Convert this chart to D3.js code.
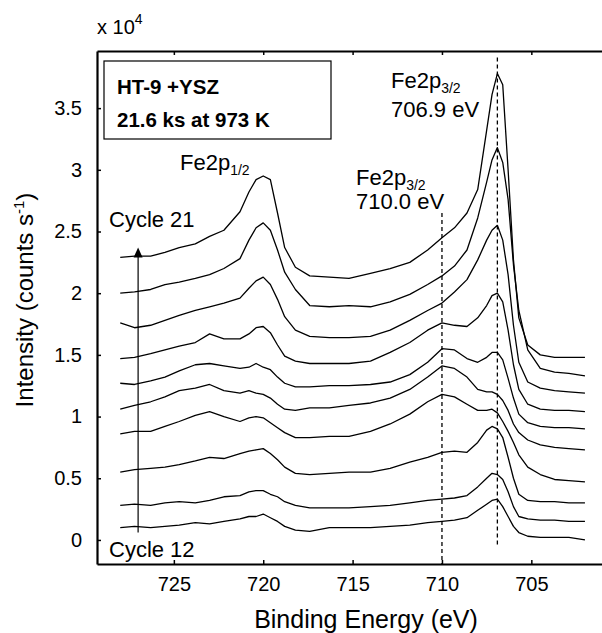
<!DOCTYPE html>
<html>
<head>
    <meta charset="utf-8">
    <script type="text/javascript" src="https://cdn.jsdelivr.net/npm/d3@7"></script>
    <style>
        body { margin: 0; background: #fff; }
        text { font-family: "Liberation Sans", Arial, Helvetica, sans-serif; fill: #000; }
    </style>
</head>

<body>
    <div id="viz"></div>
    <script type="text/javascript">

    // binding energy grid (eV), shared by all spectra
    var energy = [728.0, 727.2, 726.3, 725.5, 724.7, 723.8, 723.0, 722.2, 721.3, 720.8,
                  720.4, 720.0, 719.6, 719.2, 718.8, 718.2, 717.4, 716.3, 715.2, 714.0,
                  712.9, 711.8, 710.8, 710.0, 709.3, 708.6, 708.0, 707.5, 707.2, 706.9,
                  706.6, 706.3, 706.0, 705.7, 705.2, 704.5, 703.7, 702.9, 702.0];

    // intensity, x 10^4 counts/s (offset stack as plotted)
    var cycle21 = [2.29,2.30,2.30,2.33,2.37,2.40,2.46,2.51,2.66,2.82,2.92,2.95,2.92,2.65,2.37,2.21,2.14,2.13,2.12,2.16,2.20,2.25,2.35,2.45,2.53,2.65,2.84,3.32,3.61,3.78,3.69,3.00,2.27,1.80,1.58,1.50,1.48,1.48,1.48];
    var cycle20 = [2.00,2.01,2.03,2.07,2.09,2.12,2.15,2.20,2.28,2.43,2.53,2.57,2.51,2.35,2.17,2.03,1.90,1.89,1.90,1.89,1.93,1.99,2.07,2.14,2.22,2.35,2.61,2.90,3.08,3.18,3.06,2.76,2.23,1.86,1.54,1.39,1.36,1.35,1.33];
    var cycle19 = [1.76,1.72,1.74,1.78,1.82,1.86,1.89,1.92,1.96,2.04,2.10,2.13,2.07,1.95,1.81,1.70,1.65,1.64,1.64,1.65,1.70,1.78,1.86,1.92,2.01,2.11,2.27,2.43,2.51,2.55,2.43,2.15,1.74,1.44,1.28,1.23,1.21,1.20,1.19];
    var cycle18 = [1.47,1.48,1.51,1.54,1.57,1.60,1.67,1.63,1.63,1.67,1.72,1.73,1.68,1.58,1.49,1.45,1.43,1.43,1.43,1.45,1.52,1.60,1.70,1.76,1.74,1.73,1.80,1.90,1.98,2.00,1.93,1.70,1.42,1.22,1.10,1.06,1.05,1.05,1.04];
    var cycle17 = [1.27,1.26,1.29,1.32,1.37,1.42,1.43,1.41,1.39,1.40,1.43,1.40,1.38,1.32,1.27,1.24,1.24,1.25,1.25,1.26,1.28,1.34,1.44,1.55,1.54,1.47,1.44,1.48,1.52,1.52,1.46,1.31,1.15,1.02,0.95,0.92,0.91,0.91,0.90];
    var cycle16 = [1.06,1.09,1.12,1.16,1.21,1.23,1.26,1.21,1.19,1.21,1.19,1.18,1.15,1.10,1.06,1.05,1.07,1.07,1.09,1.11,1.15,1.22,1.32,1.41,1.39,1.32,1.22,1.20,1.20,1.18,1.13,1.05,0.94,0.87,0.81,0.77,0.75,0.74,0.73];
    var cycle15 = [0.86,0.88,0.88,0.92,0.96,1.01,1.04,1.00,0.96,0.99,1.00,0.99,0.95,0.91,0.87,0.83,0.83,0.84,0.84,0.88,0.94,1.02,1.12,1.18,1.16,1.10,1.05,1.05,1.06,1.03,0.96,0.88,0.79,0.69,0.59,0.53,0.49,0.48,0.47];
    var cycle14 = [0.55,0.57,0.58,0.59,0.61,0.64,0.67,0.66,0.70,0.72,0.73,0.74,0.70,0.65,0.59,0.54,0.53,0.54,0.55,0.55,0.58,0.63,0.67,0.71,0.72,0.71,0.79,0.89,0.92,0.90,0.83,0.67,0.50,0.37,0.32,0.31,0.31,0.30,0.30];
    var cycle13 = [0.28,0.29,0.28,0.30,0.31,0.30,0.32,0.35,0.36,0.39,0.40,0.40,0.37,0.35,0.31,0.28,0.26,0.26,0.26,0.27,0.28,0.30,0.32,0.33,0.34,0.36,0.43,0.50,0.54,0.53,0.49,0.39,0.27,0.19,0.17,0.16,0.16,0.15,0.15];
    var cycle12 = [0.10,0.11,0.10,0.11,0.12,0.14,0.13,0.15,0.17,0.19,0.19,0.21,0.18,0.15,0.11,0.08,0.07,0.10,0.10,0.10,0.11,0.12,0.14,0.15,0.16,0.18,0.24,0.29,0.32,0.33,0.27,0.19,0.11,0.06,0.03,0.02,0.02,0.02,0.00];

    var cycles = [cycle12, cycle13, cycle14, cycle15, cycle16, cycle17, cycle18, cycle19, cycle20, cycle21];

    var xTicks = [725, 720, 715, 710, 705];
    var yTicks = [0, 0.5, 1, 1.5, 2, 2.5, 3, 3.5];

    var W = 602, H = 633;
    var plotL = 97, plotT = 51, plotB = 564, plotR = 635;

    var x = d3.scaleLinear().domain([729.3, 699.2]).range([plotL, plotR]);
    var y = d3.scaleLinear().domain([-0.195, 3.963]).range([plotB, plotT]);

    var svg = d3.select("#viz")
        .append("svg")
        .attr("width", W)
        .attr("height", H);

    // axes (ticks point inward)
    var gx = svg.append("g")
        .attr("transform", "translate(0," + plotB + ")")
        .call(d3.axisBottom(x).tickValues(xTicks).tickSizeInner(-4).tickSizeOuter(0).tickPadding(13));
    var gt = svg.append("g")
        .attr("transform", "translate(0," + plotT + ")")
        .call(d3.axisTop(x).tickValues(xTicks).tickSizeInner(-4).tickSizeOuter(0).tickFormat(""));
    var gy = svg.append("g")
        .attr("transform", "translate(" + plotL + ",0)")
        .call(d3.axisLeft(y).tickValues(yTicks).tickSizeInner(-4).tickSizeOuter(0).tickPadding(15)
            .tickFormat(function(d){ return String(d); }));

    [gx, gt, gy].forEach(function(g){
        g.select(".domain").attr("stroke", "#000").attr("stroke-width", 2.2);
        g.selectAll(".tick line").attr("stroke", "#000").attr("stroke-width", 1.5);
        g.selectAll(".tick text").style("font-size", "20px").attr("fill", "#000");
    });

    // spectra
    var line = d3.line()
        .x(function(d, i){ return x(energy[i]); })
        .y(function(d){ return y(d); });

    svg.selectAll("path.spec")
        .data(cycles)
        .enter().append("path")
        .attr("class", "spec")
        .attr("d", line)
        .attr("fill", "none")
        .attr("stroke", "#000")
        .attr("stroke-width", 1.3)
        .attr("stroke-linejoin", "round");

    // dashed peak markers
    svg.append("line")
        .attr("x1", x(710.0)).attr("x2", x(710.0))
        .attr("y1", y(2.65)).attr("y2", y(-0.195))
        .attr("stroke", "#000").attr("stroke-width", 1.3).attr("stroke-dasharray", "4,3");
    svg.append("line")
        .attr("x1", x(706.9)).attr("x2", x(706.9))
        .attr("y1", y(3.91)).attr("y2", y(-0.06))
        .attr("stroke", "#000").attr("stroke-width", 1.3).attr("stroke-dasharray", "4,3");

    // cycle arrow
    svg.append("line")
        .attr("x1", x(727.0)).attr("x2", x(727.0))
        .attr("y1", y(0.06)).attr("y2", y(2.30))
        .attr("stroke", "#000").attr("stroke-width", 1.2);
    var ax = x(727.0), ay = y(2.37);
    svg.append("path")
        .attr("d", "M" + ax + "," + ay + " L" + (ax - 4.5) + "," + (ay + 10) + " L" + (ax + 4.5) + "," + (ay + 10) + " Z")
        .attr("fill", "#000");

    svg.append("text").attr("x", 109).attr("y", 227).style("font-size", "22px").text("Cycle 21");
    svg.append("text").attr("x", 109).attr("y", 557).style("font-size", "22px").text("Cycle 12");

    // sample box
    svg.append("rect")
        .attr("x", 104).attr("y", 61).attr("width", 227).attr("height", 78)
        .attr("fill", "none").attr("stroke", "#000").attr("stroke-width", 1.2);
    svg.append("text").attr("x", 117).attr("y", 94)
        .style("font-size", "20.5px").style("font-weight", "bold").text("HT-9 +YSZ");
    svg.append("text").attr("x", 117).attr("y", 127)
        .style("font-size", "20.5px").style("font-weight", "bold").text("21.6 ks at 973 K");

    // peak labels
    function feLabel(px, py, sub) {
        var t = svg.append("text").attr("x", px).attr("y", py).style("font-size", "22px");
        t.append("tspan").text("Fe2p");
        t.append("tspan").attr("dy", 5).style("font-size", "14px").text(sub);
    }
    feLabel(180, 170, "1/2");
    feLabel(391, 88, "3/2");
    svg.append("text").attr("x", 391).attr("y", 117).style("font-size", "22px").text("706.9 eV");
    feLabel(356, 185, "3/2");
    svg.append("text").attr("x", 356).attr("y", 209).style("font-size", "22px").text("710.0 eV");

    // exponent
    var ex = svg.append("text").attr("x", 97).attr("y", 34).style("font-size", "20px");
    ex.append("tspan").text("x 10");
    ex.append("tspan").attr("dy", -10).style("font-size", "14px").text("4");

    // axis titles
    svg.append("text")
        .attr("x", 366).attr("y", 628)
        .attr("text-anchor", "middle")
        .style("font-size", "25px")
        .text("Binding Energy (eV)");

    var yl = svg.append("text")
        .attr("transform", "translate(33,300) rotate(-90)")
        .attr("text-anchor", "middle")
        .style("font-size", "24px");
    yl.append("tspan").text("Intensity (counts s");
    yl.append("tspan").attr("dy", -9).style("font-size", "15px").text("-1");
    yl.append("tspan").attr("dy", 9).text(")");

    </script>
</body>
</html>
